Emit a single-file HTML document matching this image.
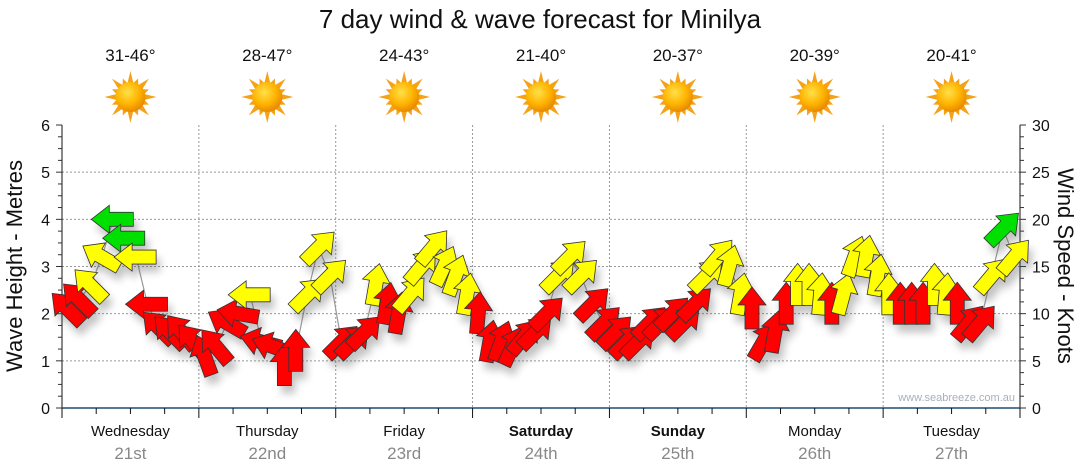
<!DOCTYPE html>
<html><head><meta charset="utf-8"><style>
html,body{margin:0;padding:0;background:#fff;}
svg{display:block;font-family:"Liberation Sans",sans-serif;}
</style></head><body>
<svg id="chart" width="1080" height="475" viewBox="0 0 1080 475" xmlns="http://www.w3.org/2000/svg">
<defs>
<filter id="sh" x="-50%" y="-50%" width="200%" height="200%"><feGaussianBlur stdDeviation="4"/></filter>
<radialGradient id="sunG" cx="40%" cy="35%" r="65%"><stop offset="0" stop-color="#ffe04a"/><stop offset="0.6" stop-color="#ffb400"/><stop offset="1" stop-color="#e88a00"/></radialGradient>
</defs>
<text x="540" y="28" font-size="26" text-anchor="middle" fill="#111">7 day wind &amp; wave forecast for Minilya</text>
<g id="tops"></g>
<g id="grid"></g>
<g id="axes"></g>
<g id="series"></g>
<text x="1015" y="401" font-size="11" text-anchor="end" fill="#a8b0bc">www.seabreeze.com.au</text>
<text transform="translate(22,266) rotate(-90)" font-size="22" text-anchor="middle" fill="#111">Wave Height - Metres</text>
<text transform="translate(1058,266) rotate(90)" font-size="22" text-anchor="middle" fill="#111">Wind Speed - Knots</text>
</svg>
<script>
const days = ["Wednesday","Thursday","Friday","Saturday","Sunday","Monday","Tuesday"];
const dates = ["21st","22nd","23rd","24th","25th","26th","27th"];
const boldDays = [false,false,false,true,true,false,false];
const temps = ["31-46°","28-47°","24-43°","21-40°","20-37°","20-39°","20-41°"];
const waveTicks = [0,1,2,3,4,5,6];
const windTicks = [0,5,10,15,20,25,30];
// wind speed (knots) every 2 hours, 12 per day
const windSpeed = [
 10.5,11.5,13,16,20,18,16,11,8.5,8,8,7,
 5.5,6.5,9,10,12,7,6.5,4.5,6,12,17,14,
 7,7,8,13,11,10,12,15,17,15,14,12,
 10,7,7,6.5,7.5,8,10,14,16,14,11,9,
 8,7,7,9,9,10,9,11,14,16,15,12,
 10.5,7,8,11,13,13,12,11,12,16,16,14,
 12,11,11,11,13,12,11,9,9,14,19,16
];
// direction arrow points toward (degrees, 0 = up)
const windDir = [
 315,315,315,300,270,270,270,270,315,315,320,320,
 340,320,300,280,270,285,290,0,0,45,45,45,
 45,45,45,10,10,10,40,40,40,25,20,10,
 5,10,20,25,40,45,45,45,45,45,45,45,
 45,45,45,45,45,45,45,45,45,40,15,10,
 0,30,10,0,0,0,5,0,15,20,10,10,
 0,0,0,0,0,5,0,40,40,40,45,40
];
const NS="http://www.w3.org/2000/svg";
const X0=62,X1=1020,Y0=408,Y1=125,DAYW=(X1-X0)/7;
const yWave=v=>Y0-(v/6)*(Y0-Y1);
const yWind=k=>Y0-(k/30)*(Y0-Y1);
const xHour=h=>X0+h/168*(X1-X0);
function mk(tag,attrs,parent){const e=document.createElementNS(NS,tag);for(const k in attrs)e.setAttribute(k,attrs[k]);parent.appendChild(e);return e;}
const tops=document.getElementById('tops'),grid=document.getElementById('grid'),axes=document.getElementById('axes'),series=document.getElementById('series');
temps.forEach((t,i)=>{
 const cx=X0+DAYW*(i+0.5);
 const tx=mk('text',{x:cx,y:61,'font-size':17,'text-anchor':'middle',fill:'#111'},tops);tx.textContent=t;
 
 
 const g=mk('g',{},tops);
 
 
 for(let r=0;r<16;r++){const a=r*Math.PI/8,L=(r%2?20:26);
  const p=[[cx+Math.cos(a)*L,97+Math.sin(a)*L],[cx+Math.cos(a+0.25)*13,97+Math.sin(a+0.25)*13],[cx+Math.cos(a-0.25)*13,97+Math.sin(a-0.25)*13]];
  mk('polygon',{points:p.map(q=>q.join(',')).join(' '),fill:'#f3a21a'},g);}
 mk('circle',{cx:cx,cy:97,r:15,fill:'url(#sunG)'},g);
});
for(let v=1;v<=5;v++){const l=mk('line',{x1:X0,x2:X1,y1:yWave(v),y2:yWave(v),stroke:'#999','stroke-dasharray':'2,2','stroke-width':1},grid);}
for(let d=1;d<7;d++){const x=X0+DAYW*d;const l=mk('line',{x1:x,x2:x,y1:Y1,y2:Y0,stroke:'#999','stroke-dasharray':'2,2','stroke-width':1},grid);}
mk('line',{x1:X0,x2:X0,y1:Y1,y2:Y0,stroke:'#111'},axes);
mk('line',{x1:X1,x2:X1,y1:Y1,y2:Y0,stroke:'#111'},axes);
const xa=mk('line',{x1:X0,x2:X1,y1:Y0,y2:Y0,stroke:'#1d4f73','stroke-width':1.5},axes);

for(let m=0;m<=24;m++){const y=Y0-m*(Y0-Y1)/24;mk('line',{x1:X0-(m%4?4:6),x2:X0,y1:y,y2:y,stroke:'#333'},axes);mk('line',{x1:X1,x2:X1+(m%4?4:6),y1:y,y2:y,stroke:'#333'},axes);}
waveTicks.forEach(v=>{const t=mk('text',{x:X0-12,y:yWave(v)+6,'font-size':16,'text-anchor':'end',fill:'#111'},axes);t.textContent=v;});
windTicks.forEach(v=>{const t=mk('text',{x:X1+12,y:yWind(v)+6,'font-size':16,fill:'#111'},axes);t.textContent=v;});
for(let q=0;q<=28;q++){const x=X0+q*DAYW/4;mk('line',{x1:x,x2:x,y1:Y0,y2:Y0+(q%4?6:10),stroke:'#111'},axes);}
days.forEach((d,i)=>{const cx=X0+DAYW*(i+0.5);
 const t=mk('text',{x:cx,y:436,'font-size':15,'text-anchor':'middle',fill:'#111','font-weight':boldDays[i]?'bold':'normal'},axes);t.textContent=d;
 
 const t2=mk('text',{x:cx,y:459,'font-size':17,'text-anchor':'middle',fill:'#888'},axes);t2.textContent=dates[i];
 });
const pts=windSpeed.map((k,i)=>[xHour(1+i*2),yWind(k)]);
const line=mk('polyline',{points:pts.map(p=>p.join(',')).join(' '),fill:'none',stroke:'#999','stroke-width':1.2},series);

const arrowPts="0,-22 14,-4 7,-4 7,20 -7,20 -7,-4 -14,-4";
const shadows=mk('g',{filter:'url(#sh)',opacity:0.35},series);
pts.forEach((p,i)=>{mk('polygon',{points:arrowPts,fill:'#555',transform:`translate(${p[0]+4},${p[1]+8}) rotate(${windDir[i]})`},shadows);});
pts.forEach((p,i)=>{const k=windSpeed[i];const c=k<11.8?'#ff0000':(k<18?'#ffff00':'#00e000');
 const a=mk('polygon',{points:arrowPts,fill:c,stroke:'#333','stroke-width':0.8,transform:`translate(${p[0]},${p[1]}) rotate(${windDir[i]})`},series);
 
 });
</script>
</body></html>
